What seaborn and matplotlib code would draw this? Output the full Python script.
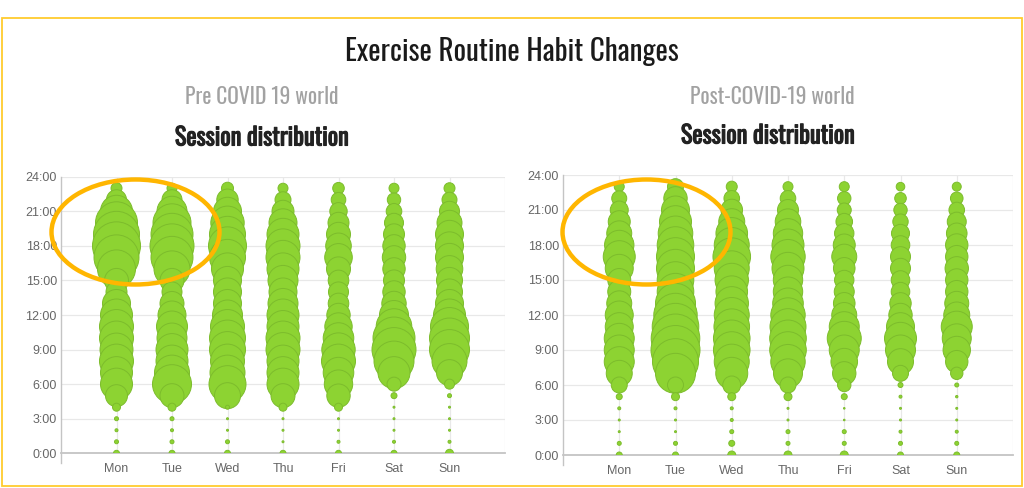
import matplotlib
matplotlib.use("Agg")
import matplotlib.pyplot as plt
import matplotlib.patheffects as pe
import numpy as np
import pandas as pd
import seaborn as sns
from matplotlib.patches import Ellipse, Rectangle
from matplotlib import font_manager as fm

days = ["Mon", "Tue", "Wed", "Thu", "Fri", "Sat", "Sun"]
hours = list(range(24))
ytick_values = [0, 3, 6, 9, 12, 15, 18, 21, 24]
ytick_labels = ["0:00", "3:00", "6:00", "9:00", "12:00", "15:00", "18:00", "21:00", "24:00"]

title = "Exercise Routine Habit Changes"
subtitles = ["Pre COVID 19 world", "Post-COVID-19 world"]
chart_title = "Session distribution"

# bubble radius (session volume index) per hour 0..23
pre_mon = [3, 2, 1.5, 2, 4, 11, 16, 16, 17, 16.5, 17, 17, 16, 14, 10.5, 12, 19, 22.5, 24, 23, 21, 16, 10, 5.5]
pre_tue = [3, 2, 1.5, 2, 4, 12, 19.5, 17.5, 16, 16, 15, 15.5, 14, 12, 10, 12, 18, 21, 22, 21, 19, 15, 10, 5]
pre_wed = [3, 2, 1, 1, 2, 13, 18.5, 17.5, 17, 18, 18, 17, 15, 14, 14, 14, 16, 18, 19, 18, 16.7, 14, 10.7, 6]
pre_thu = [3, 1, 1, 1, 4, 12, 16, 16, 16, 17, 17, 16, 16, 15, 14, 15, 16, 17, 17, 16, 14, 11, 8, 5]
pre_fri = [3, 1.5, 1, 1, 4, 11.7, 14.2, 15.3, 17, 16.7, 15.3, 13.7, 11.7, 10.3, 10, 10.3, 12, 13.8, 12.8, 12, 10.5, 8.7, 7.3, 5.8]
pre_sat = [3, 1.5, 1, 1, 1, 3, 7, 16, 20, 22, 21, 17.8, 14.5, 12.2, 11.2, 10.5, 11.2, 11.7, 11.2, 10.5, 9.5, 7.8, 6.7, 5]
pre_sun = [4, 1.5, 1, 1, 1, 2, 5, 13, 17.5, 20, 20, 19, 16, 14, 13, 13, 13.3, 14, 14, 14, 12.5, 10, 7.5, 5.5]

post_mon = [3, 2, 1, 1, 1.5, 3, 8, 13, 15, 15, 15, 14, 14, 12.5, 11.5, 11.5, 14, 16, 14.7, 12.5, 11, 9, 7.5, 5]
post_tue = [3, 2, 1, 1, 1.5, 4, 8, 20, 23, 24.5, 24.3, 23.3, 21.7, 20, 18.3, 18.3, 19, 19, 18.3, 17.3, 16, 14, 11.7, 8]
post_wed = [4, 3, 2, 1.5, 1.5, 4, 9, 16, 17.5, 18.3, 18.3, 17.8, 17.5, 16.7, 15.8, 16.7, 17.5, 18.8, 17.5, 15.8, 13, 10.8, 7.8, 5.5]
post_thu = [4, 2, 2, 1, 1, 4, 8, 14.5, 17.2, 18.3, 18.3, 18, 17.2, 15.3, 14.7, 14.7, 16, 17.2, 16, 14.7, 12.8, 10.5, 7.8, 5]
post_fri = [4, 2, 2, 0.8, 0.8, 3, 6.7, 11.7, 13.3, 15, 17, 15, 12.5, 10.8, 10, 9.7, 10.8, 12.5, 11, 9.7, 8.3, 7, 6.7, 5]
post_sat = [3, 2, 1.5, 1, 1, 1.5, 2.5, 8, 13, 15, 16, 14, 11.7, 10.7, 9.3, 9.3, 10, 10, 9.3, 9, 7.7, 6.7, 5.8, 4.3]
post_sun = [3, 2, 1.5, 1, 1, 1.2, 2, 6.2, 11.2, 13.7, 14.5, 15.5, 13, 12, 11.2, 11.2, 11.7, 11.2, 11.2, 10.3, 9.5, 7.8, 6.3, 4.5]

pre_series = [pre_mon, pre_tue, pre_wed, pre_thu, pre_fri, pre_sat, pre_sun]
post_series = [post_mon, post_tue, post_wed, post_thu, post_fri, post_sat, post_sun]

# fonts
avail = {f.name for f in fm.fontManager.ttflist}


def pick(options, default="DejaVu Sans"):
    for o in options:
        if o in avail:
            return o
    return default


light_font = pick(["Oswald Light", "Oswald ExtraLight", "Oswald", "Asap Condensed", "Archivo Narrow"])
bold_font = pick(["Oswald SemiBold", "Oswald Medium", "Oswald", "Asap Condensed", "Archivo Narrow"])
base = pick(["Liberation Sans", "Arimo", "DejaVu Sans"])

sns.set_style("white")
plt.rcParams["font.family"] = [base, "DejaVu Sans"]

FILL = "#8DD332"
EDGE = "#7CBC2C"
GRID = "#E8E8E8"
AXIS = "#C4C4C4"
TICK = "#666666"

W, H = 1024, 488
fig = plt.figure(figsize=(W / 100, H / 100), dpi=100)
fig.patch.set_facecolor("white")

R_MAX = 25.0
S_MAX = (2 * R_MAX * 0.72) ** 2  # marker area in pt^2 for R_MAX px radius


def make_df(series):
    rows = []
    for h in reversed(hours):
        for d, vals in zip(days, series):
            rows.append({"day": d, "hour": h, "area": vals[h] ** 2})
    return pd.DataFrame(rows)


def draw(ax, series):
    df = make_df(series)
    sns.scatterplot(data=df, x="day", y="hour", size="area",
                    sizes=(0, S_MAX), size_norm=(0, R_MAX ** 2),
                    color=FILL, edgecolor=EDGE, linewidth=0.7,
                    alpha=1.0, legend=False, ax=ax, zorder=3)
    ax.set_xlim(-1, 7)
    ax.set_ylim(0, 24)
    ax.set_xticks(range(len(days)))
    ax.set_xticklabels(days)
    ax.set_yticks(ytick_values)
    ax.set_yticklabels(ytick_labels)
    ax.set_xlabel("")
    ax.set_ylabel("")
    ax.tick_params(axis="both", length=0, colors=TICK, labelsize=9)
    ax.tick_params(axis="x", pad=7)
    ax.tick_params(axis="y", pad=3)
    for y in ytick_values[1:]:
        ax.axhline(y, color=GRID, lw=0.9, zorder=0)
    for x in range(0, 8):
        ax.axvline(x, color=GRID, lw=0.9, zorder=0)
    for s in ["top", "right"]:
        ax.spines[s].set_visible(False)
    ax.spines["bottom"].set_color(AXIS)
    ax.spines["bottom"].set_linewidth(1.3)
    ax.spines["left"].set_color(AXIS)
    ax.spines["left"].set_linewidth(1.0)
    ax.spines["left"].set_bounds(-0.85, 24)
    ax.spines["bottom"].set_zorder(1)


ax1 = fig.add_axes([61 / W, 34.7 / H, 444 / W, 276.6 / H])
ax2 = fig.add_axes([563 / W, 33 / H, 450 / W, 280 / H])
draw(ax1, pre_series)
draw(ax2, post_series)

# titles
fig.text(512 / W, 1 - 52 / H, title, ha="center", va="center",
         fontsize=21, color="#1a1a1a", family=[light_font, "DejaVu Sans"])
for cx, sub in zip((262, 772), subtitles):
    fig.text(cx / W, 1 - 97 / H, sub, ha="center", va="center",
             fontsize=15.5, color="#a2a2a2", family=[light_font, "DejaVu Sans"])

bold_fx = [pe.withStroke(linewidth=0.8, foreground="#222222")]
for cx, cy in ((262, 138), (768, 136)):
    fig.text(cx / W, 1 - cy / H, chart_title, ha="center", va="center",
             fontsize=17.5, fontweight="bold", color="#222222",
             family=[bold_font, "DejaVu Sans"], path_effects=bold_fx)

# yellow frame
fig.patches.append(Rectangle((1.5 / W, 1 - 486 / H), 1020.5 / W, 468 / H,
                             transform=fig.transFigure, fill=False,
                             edgecolor="#FFCB2E", lw=1.3, zorder=10))

# highlight ellipses
for cx in (135.5, 646.5):
    fig.patches.append(Ellipse((cx / W, 1 - 232 / H), 168 / W, 105 / H,
                               transform=fig.transFigure, fill=False,
                               edgecolor="#FFB600", lw=3.2, zorder=20))

fig.savefig("out.png", dpi=100, facecolor="white")
